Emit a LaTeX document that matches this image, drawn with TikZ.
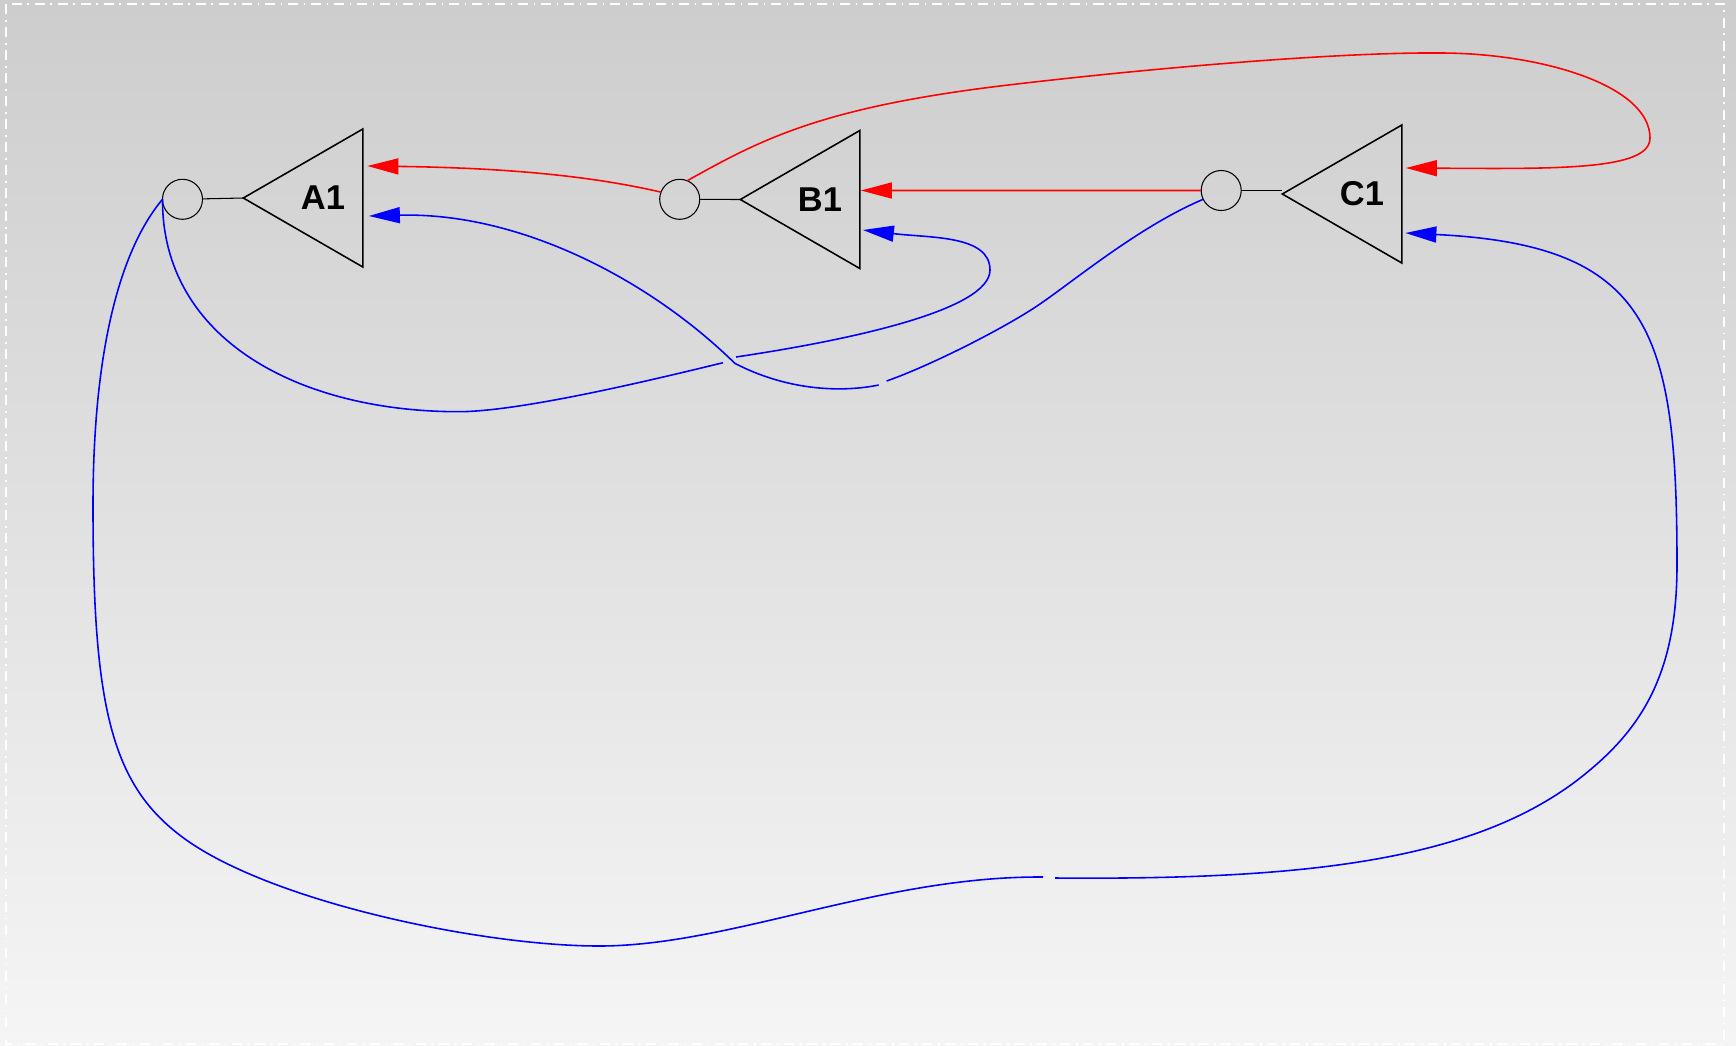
\documentclass[tikz,border=0pt]{standalone}
\usepackage{fontspec}
\newfontfamily\gatefont{Liberation Sans}
\usetikzlibrary{arrows.meta,shapes.geometric,calc}
\definecolor{cbgtop}{HTML}{CDCDCD}
\definecolor{cbgbot}{HTML}{F5F5F5}
\definecolor{cred}{HTML}{FF0000}
\definecolor{cblue}{HTML}{0000FF}
\tikzset{
  >={Triangle[length=3.1mm,width=1.6mm]},
  gate/.style={draw,line width=0.45pt,regular polygon,regular polygon sides=3,
               shape border rotate=90,minimum size=1.593cm,inner sep=0pt,outer sep=0pt,
               font=\gatefont\bfseries\fontsize{9.8}{12}\selectfont},
  port/.style={draw,circle,line width=0.3pt,minimum size=0.4cm,inner sep=0pt,outer sep=0pt},
  stub/.style={line width=0.3pt},
  wire/.style={->,line width=0.45pt},
}

\begin{document}
\begin{tikzpicture}[x=0.01cm,y=-0.01cm]

% ================= BACKGROUND =================
\shade[top color=cbgtop,bottom color=cbgbot] (0,0) rectangle (1736,1045);
\draw[white,line width=0.4pt,dash pattern=on 1mm off 0.6mm on 0.15mm off 0.55mm]
  (6,4) rectangle (1724,1044);
\useasboundingbox (0,0) rectangle (1736,1045);

% ================= GATES =================
\node[gate] (A1) at (323,198) {A1};
\node[gate] (B1) at (820,199.5) {B1};
\node[gate] (C1) at (1362,194) {C1};
\node[port] (Ao) at (182.5,199.3) {};
\node[port] (Bo) at (679.7,199.3) {};
\node[port] (Co) at (1221.2,190.5) {};
\draw[stub] (Ao) -- (A1.west);
\draw[stub] (Bo) -- (B1.west);
\draw[stub] (Co.east) -- (Co.east -| C1.west);

% inputs (r = red, b = blue)
\coordinate (A1r) at ($(A1.east)+(4.5,-32)$);
\coordinate (A1b) at ($(A1.east)+(6,18)$);
\coordinate (B1r) at ($(B1.east)+(1,-9)$);
\coordinate (B1b) at ($(B1.east)+(3,30.5)$);
\coordinate (C1r) at ($(C1.east)+(4,-26)$);
\coordinate (C1b) at ($(C1.east)+(3.5,39)$);

% ================= RED WIRES =================
\draw[wire,cred] (Bo.159) .. controls (600,178) and (520,168) .. (A1r);
\draw[wire,cred] (Bo.68) .. controls (760,140) and (820,108) .. (1000,86)
  .. controls (1150,68) and (1340,52) .. (1440,53)
  .. controls (1540,53) and (1650,85) .. (1650,138)
  .. controls (1650,170) and (1560,169) .. (C1r);
\draw[wire,cred] (Co.west) -- (B1r);

% ================= BLUE WIRES =================
\draw[wire,cblue] (Ao.west) .. controls (120,250) and (93,350) .. (93,506)
  .. controls (93,700) and (110,780) .. (176.7,832.7)
  .. controls (260,900) and (480,946) .. (599,946)
  .. controls (730,946) and (880,876) .. (1043,877)
  (1055,878) .. controls (1300,880) and (1470,862) .. (1577.5,780)
  .. controls (1637,734) and (1677,680) .. (1677,565)
  .. controls (1677,330) and (1650,245) .. (C1b);
\draw[wire,cblue] (Ao.west) .. controls (162,340) and (300,412) .. (460,411.7)
  .. controls (520,411) and (640,383) .. (723,362.7)
  (736,357) .. controls (850,340) and (990,310) .. (990,270)
  .. controls (990,235) and (930,238) .. (B1b);
\draw[wire,cblue] (Co.206) .. controls (1140,226) and (1075,280) .. (1040,304)
  .. controls (1005,328) and (930,365.8) .. (886.6,381)
  (878.6,385) .. controls (845,392) and (790,392) .. (734.8,363.3)
  .. controls (650,280) and (520,212) .. (A1b);

\end{tikzpicture}
\end{document}
